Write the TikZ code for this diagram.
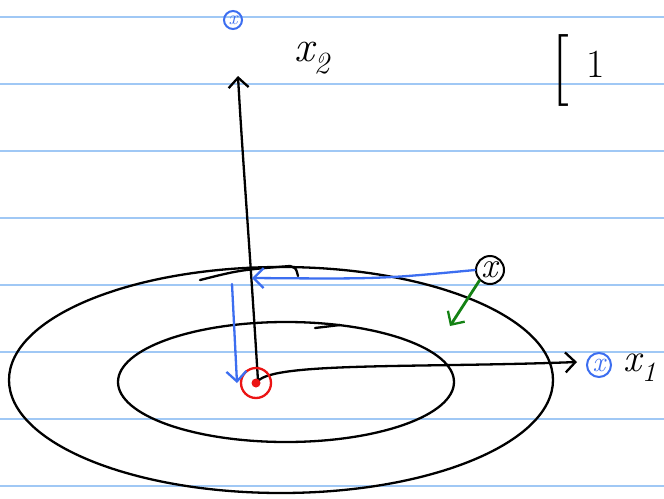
\documentclass[tikz,border=0pt]{standalone}
\usepackage{fontspec}
\usetikzlibrary{arrows.meta}
\definecolor{ruleblue}{RGB}{160,200,245}
\definecolor{penblue}{RGB}{60,110,240}
\definecolor{pengreen}{RGB}{20,130,20}
\definecolor{penred}{RGB}{235,20,20}
\tikzset{
  pen/.style={line width=2.3pt, line cap=round, line join=round},
  barb/.style={-{Straight Barb[length=10pt,width=20pt,line width=2.3pt]}},
  ptmark/.style={circle, draw, line width=2pt, inner sep=1.5pt}
}
\begin{document}
\begin{tikzpicture}[x=1pt,y=-1pt]
  \useasboundingbox[fill=white] (0,0) rectangle (664,498);
  % ruled paper
  \foreach \yy in {17,84,151,218,285,352,419,486}
    \draw[ruleblue, line width=1.5pt] (0,\yy) -- (664,\yy);
  % level sets
  \draw[pen] (281,380) ellipse [x radius=272pt, y radius=113pt];
  \draw[pen] (286,382) ellipse [x radius=168pt, y radius=60pt];
  \draw[pen] (200,280) .. controls (240,270) .. (290,266) .. controls (296,268) .. (298,276);
  \draw[pen] (315,328) -- (340,325);
  % axes
  \coordinate (O) at (258,381);
  \coordinate (x2tip) at (238,76);
  \coordinate (x1tip) at (577,362);
  \draw[pen, barb] (O) .. controls (250,250) and (242,150) .. (x2tip);
  \draw[pen, barb] (O) .. controls (275,362) and (420,368) .. (x1tip);
  \node[font=\fontsize{44}{44}\selectfont] (x2lab) at (312,58) {\itshape x\textsubscript{2}};
  \node[font=\fontsize{40}{40}\selectfont] (x1lab) at (640,368) {\itshape x\textsubscript{1}};
  \node[font=\fontsize{72}{72}\selectfont] (brk) at (560,70) {[};
  \node[font=\fontsize{40}{40}\selectfont] (one) at (596,64) {1};
  % points
  \node[ptmark, minimum size=28pt, font=\fontsize{36}{36}\selectfont\itshape] (xpt) at (490,270) {x};
  \node[ptmark, penblue, minimum size=18pt, font=\fontsize{20}{20}\selectfont\itshape] (top) at (233,20) {x};
  \node[ptmark, penblue, minimum size=24pt, font=\fontsize{28}{28}\selectfont\itshape] (right) at (599,365) {x};
  \node[circle, draw=penred, line width=2.3pt, minimum size=30pt] (opt) at (256,383) {};
  \fill[penred] (opt) circle (4.5pt);
  % steps
  \coordinate (corner) at (252,278);
  \draw[pen, penblue, barb] (xpt.west) .. controls (380,279) .. (corner);
  \coordinate (dstart) at (232,284);
  \draw[pen, penblue, barb] (dstart) -- (237,383);
  \draw[pen, pengreen, line width=2.8pt, barb] (xpt.south west) -- (450,326);
\end{tikzpicture}
\end{document}
